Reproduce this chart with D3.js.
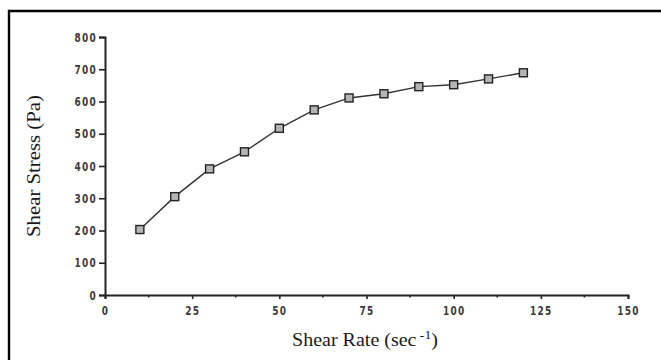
<!DOCTYPE html>
<html>
<head>
<meta charset="utf-8">
<script src="https://cdn.jsdelivr.net/npm/d3@7"></script>
<style>
  html, body { margin: 0; padding: 0; background: #fff; }
  svg { display: block; }
</style>
</head>
<body>
<svg id="chart" width="661" height="360"></svg>
<script>
const shearRate = [10, 20, 30, 40, 50, 60, 70, 80, 90, 100, 110, 120];
const shearStress = [203, 305, 391, 444, 517, 574, 611, 624, 646, 652, 670, 689];
const xTicks = [0, 25, 50, 75, 100, 125, 150];
const xMinorTicks = [12.5, 37.5, 62.5, 87.5, 112.5, 137.5];
const yTicks = [0, 100, 200, 300, 400, 500, 600, 700, 800];

const svg = d3.select("#chart");
const W = 661, H = 360;

// frame (left + top borders only, as cropped)
svg.append("line").attr("x1", 9).attr("x2", 9).attr("y1", 10).attr("y2", H)
  .attr("stroke", "#000").attr("stroke-width", 2.4);
svg.append("line").attr("x1", 8).attr("x2", W).attr("y1", 11).attr("y2", 11)
  .attr("stroke", "#000").attr("stroke-width", 2.4);

const x = d3.scaleLinear().domain([0, 150]).range([105, 628]);
const y = d3.scaleLinear().domain([0, 800]).range([295, 37]);

const tickFont = "'DejaVu Sans Condensed', 'Liberation Sans Narrow', sans-serif";

// tall, narrow bold digits: scale each label vertically
function styleTicks(sel, anchor) {
  sel.attr("font-family", tickFont).attr("font-weight", "bold")
    .attr("font-size", 10.5).attr("fill", "#3a3a3a").attr("letter-spacing", 1.3)
    .attr("font-stretch", "condensed");
  sel.each(function() {
    const t = d3.select(this);
    const tx = +t.attr("x") || 0;
    const ty = +t.attr("y") || 0;
    const dy = t.attr("dy");
    t.attr("x", 0).attr("y", 0)
      .attr("transform", `translate(${tx},${ty}) scale(0.95,1.2)`);
  });
}

// x axis
const xAxis = svg.append("g").attr("transform", `translate(0,${y(0)})`)
  .call(d3.axisBottom(x).tickValues(xTicks).tickSize(4).tickPadding(7).tickFormat(d3.format("d")));
xAxis.select(".domain").attr("stroke", "#222").attr("stroke-width", 2);
xAxis.selectAll(".tick line").attr("stroke", "#222").attr("stroke-width", 1.6);
styleTicks(xAxis.selectAll("text"));
svg.append("g").selectAll("line").data(xMinorTicks).join("line")
  .attr("x1", d => x(d)).attr("x2", d => x(d))
  .attr("y1", y(0)).attr("y2", y(0) + 2.5)
  .attr("stroke", "#222").attr("stroke-width", 1.6);

// y axis
const yAxis = svg.append("g").attr("transform", `translate(${x(0)},0)`)
  .call(d3.axisLeft(y).tickValues(yTicks).tickSize(6).tickPadding(2).tickFormat(d3.format("d")));
yAxis.select(".domain").attr("stroke", "#222").attr("stroke-width", 2);
yAxis.selectAll(".tick line").attr("stroke", "#222").attr("stroke-width", 1.6);
styleTicks(yAxis.selectAll("text"));

// data line
const pts = shearRate.map((r, i) => [r, shearStress[i]]);
svg.append("path").datum(pts)
  .attr("fill", "none").attr("stroke", "#333").attr("stroke-width", 1.4)
  .attr("d", d3.line().x(d => x(d[0])).y(d => y(d[1])));

// markers
svg.append("g").selectAll("rect").data(pts).join("rect")
  .attr("x", d => x(d[0]) - 4).attr("y", d => y(d[1]) - 4)
  .attr("width", 8).attr("height", 8)
  .attr("fill", "#b5b5b5").attr("stroke", "#222").attr("stroke-width", 1.4);

// axis titles (tall, narrow serif as in the reference)
const titleFont = "'Liberation Serif', 'DejaVu Serif', serif";
function fitWidth(textSel, cx, cy, targetW, rotate) {
  const w = textSel.node().getComputedTextLength();
  const s = targetW / w;
  textSel.attr("transform",
    `translate(${cx},${cy})` + (rotate ? " rotate(-90)" : "") + ` scale(${s},1)`);
}

const xt = svg.append("text")
  .attr("text-anchor", "middle")
  .attr("font-family", titleFont).attr("font-size", 19).attr("fill", "#1a1a1a");
xt.append("tspan").text("Shear Rate (sec");
xt.append("tspan").attr("dy", -7).attr("font-size", 13).text(" -1");
xt.append("tspan").attr("dy", 7).text(")");
fitWidth(xt, 365, 346, 146, false);

const yt = svg.append("text")
  .attr("text-anchor", "middle")
  .attr("font-family", titleFont).attr("font-size", 18).attr("fill", "#1a1a1a")
  .text("Shear Stress (Pa)");
fitWidth(yt, 40, 166, 142, true);
</script>
</body>
</html>
